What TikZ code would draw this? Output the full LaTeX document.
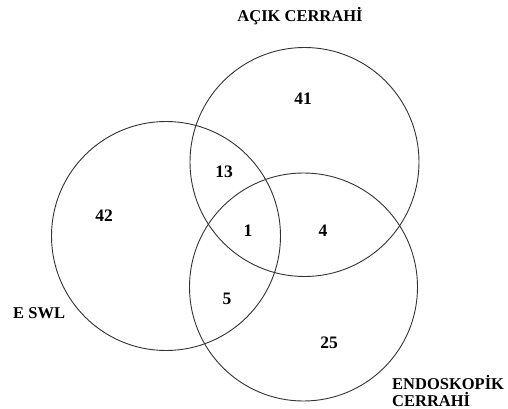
\documentclass[tikz,border=0pt]{standalone}
\usepackage{fontspec}
\setmainfont{Liberation Serif}
\begin{document}
\begin{tikzpicture}[x=1pt,y=-1pt,
  ring/.style={draw=black!80, line width=0.9pt},
  lbl/.style={font=\bfseries\fontsize{16.5}{17}\selectfont, inner sep=0pt},
  num/.style={font=\bfseries\fontsize{17.5}{18}\selectfont, inner sep=0pt}]
\useasboundingbox (0,0) rectangle (508,409);
\node[ring, circle, minimum size=229pt, inner sep=0pt] (acik) at (304.5,162) {};
\node[ring, circle, minimum size=229pt, inner sep=0pt] (eswl) at (166,236) {};
\node[ring, circle, minimum size=228pt, inner sep=0pt] (endo) at (303.5,287) {};
\node[lbl] (tA) at (300,16) {AÇIK CERRAHİ};
\node[lbl, anchor=west] (tE) at (13,313) {E SWL};
\node[lbl, anchor=west, align=left] (tD) at (392,391) {ENDOSKOPİK\\CERRAHİ};
\node[num] (n41) at (303,99) {41};
\node[num] (n13) at (224,172) {13};
\node[num] (n42) at (104,216) {42};
\node[num] (n1) at (248,231) {1};
\node[num] (n4) at (323,231) {4};
\node[num] (n5) at (227,299) {5};
\node[num] (n25) at (329,343) {25};
\end{tikzpicture}
\end{document}
